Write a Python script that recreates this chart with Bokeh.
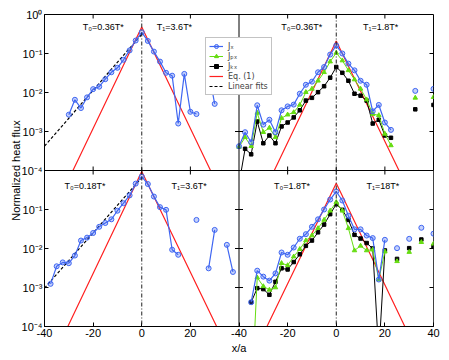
import math
import numpy as np
from bokeh.plotting import figure
from bokeh.models import (Range1d, LogScale, FixedTicker,
                          CustomJSTickFormatter, Span, BoxAnnotation,
                          Legend, LegendItem)
from bokeh.core.properties import value
from bokeh.embed import file_html
from bokeh.resources import INLINE

nan = float("nan")

# ---------------- data ----------------
X = [-40, -37.5, -35, -32.5, -30, -27.5, -25, -22.5, -20, -17.5, -15, -12.5, -10, -7.5, -5, -2.5,
     0, 2.5, 5, 7.5, 10, 12.5, 15, 17.5, 20, 22.5, 25, 27.5, 30, 32.5, 35, 37.5, 40]

# top-left panel: T0=0.36T*, T1=3.6T*
TL_JX = [nan, nan, nan, nan, 2.7e-3, 6.5e-3, 4.0e-3, 7.5e-3, 0.0122, 0.0141, 0.0219, 0.033, 0.043, 0.069, 0.12, 0.215,
         0.35, 0.21, 0.112, 0.062, 0.032, 0.027, 1.6e-3, 0.030, 3.2e-3, 2.8e-3, nan, 0.035, 5.1e-3, nan, nan, nan, nan]
TL_FIT_X = [-40, 0]
TL_FIT = [4.2e-4, 0.31]
TL_EQ_X = [-28.3, 0, 28.3]
TL_EQ = [1e-4, 0.48, 1e-4]

# top-right panel: T0=0.36T*, T1=1.8T*
TR_JX = [4.2e-4, 9.6e-4, 5.3e-4, 4.7e-3, 1.5e-3, 2.0e-3, 9.6e-4, 3.5e-3, 4.4e-3, 4.9e-3, 9.3e-3, 0.0158, 0.019, 0.033, 0.045, 0.094,
         0.16, 0.10, 0.055, 0.037, 0.020, 0.0158, 3.3e-3, 4.8e-3, 1.7e-3, 1.1e-3, nan, nan, nan, 0.011, nan, nan, 0.0124]
TR_JPX = [4.0e-4, 7.1e-4, 4.2e-4, 3.0e-3, 9.6e-4, 1.24e-3, 7.1e-4, 2.2e-3, 2.7e-3, 3.1e-3, 4.8e-3, 0.0102, 0.0124, 0.020, 0.033, 0.062,
          0.104, 0.066, 0.037, 0.0215, 0.0124, 6.6e-3, 2.8e-3, 2.6e-3, 8.7e-4, 4.4e-4, nan, nan, nan, 7.3e-3, nan, nan, 7.6e-3]
TR_JKX = [4.5e-5, 3.6e-4, 2.6e-4, 1.8e-3, 5.0e-4, 7.9e-4, 5.0e-4, 1.35e-3, 1.7e-3, 2.3e-3, 3.5e-3, 6.2e-3, 7.3e-3, 0.0102, 0.0145, 0.024,
          0.045, 0.032, 0.020, 9.3e-3, 8.3e-3, 6.2e-3, 1.6e-3, 2.0e-3, 7.9e-4, 6.9e-4, nan, nan, nan, 3.7e-3, nan, nan, 4.8e-3]
TR_EQ_X = [-25.5, 0, 25.8]
TR_EQ = [1e-4, 0.21, 1e-4]

# bottom-left panel: T0=0.18T*, T1=3.6T*
BL_JX = [nan, 1.24e-3, 3.5e-3, 4.4e-3, 4.2e-3, 6.6e-3, 0.016, 0.019, 0.025, 0.036, 0.045, 0.056, 0.093, 0.145, 0.23, 0.46,
         0.70, 0.45, 0.215, 0.115, 0.098, 9.3e-3, 6.9e-3, nan, nan, 0.054, nan, 3.1e-3, 0.030, nan, 0.0124, 2.5e-3, nan]
BL_FIT_X = [-40, 0]
BL_FIT = [9.6e-4, 0.66]
BL_EQ_X = [-30.4, 0, 30.8]
BL_EQ = [1e-4, 0.94, 1e-4]

# bottom-right panel: T0=1.8T*, T1=18T*
BR_JX = [nan, nan, 4.2e-4, 2.7e-3, 1.9e-3, 1.5e-3, 2.3e-3, 7.9e-3, 6.9e-3, 0.0106, 0.0178, 0.0233, 0.036, 0.056, 0.10, 0.18,
         0.29, 0.17, 0.069, 0.031, 0.031, 0.0215, 0.0185, 1.6e-3, 0.0167, nan, 0.0102, nan, 0.0177, nan, 0.034, nan, 0.024]
BR_JPX = [nan, nan, 1e-6, 1.8e-3, 1.07e-3, 8.7e-4, 1.0e-3, 4.2e-3, 3.7e-3, 6.2e-3, 9.6e-3, 0.016, 0.0215, 0.033, 0.054, 0.093,
          0.154, 0.093, 0.033, 8.9e-3, 0.0117, 8.9e-3, 9.3e-3, 1.6e-3, 8.3e-3, nan, 4.7e-3, nan, 8.1e-3, nan, 0.0145, nan, 0.0132]
BR_JKX = [nan, nan, 4.2e-4, 9.6e-4, 9.1e-4, 6.5e-4, 1.4e-3, 3.1e-3, 2.9e-3, 4.5e-3, 7.1e-3, 0.0117, 0.016, 0.026, 0.041, 0.076,
          0.137, 0.098, 0.054, 0.0224, 0.018, 0.0138, 0.0100, 2e-5, 8.9e-3, nan, 5.4e-3, nan, 0.0102, nan, 0.017, nan, 0.0112]
BR_EQ_X = [-28.5, 0, 28.2]
BR_EQ = [1e-4, 0.47, 1e-4]

PANEL_TEXT = {
    "TL": ["T\u2080=0.36T*", "T\u2081=3.6T*"],
    "TR": ["T\u2080=0.36T*", "T\u2081=1.8T*"],
    "BL": ["T\u2080=0.18T*", "T\u2081=3.6T*"],
    "BR": ["T\u2080=1.8T*", "T\u2081=18T*"],
}

X_LIM = (-40, 40)
Y_LIM = (1e-4, 1.0)
X_TICKS = [-40, -20, 0, 20, 40]
X_TICK_LABELS = ["-40", "-20", "0", "20", "40"]
Y_TICKS = [1.0, 1e-1, 1e-2, 1e-3, 1e-4]
Y_TICK_LABELS = ["10\u2070", "10\u207b\u00b9", "10\u207b\u00b2", "10\u207b\u00b3", "10\u207b\u2074"]

LEGEND_LABELS = ["J\u2093", "J\u209a\u2093", "J\u2096\u2093", "Eq. (1)", "Linear fits"]

# ---------------- styles ----------------
BLUE = "#3f66f2"
GREEN = "#66dd11"
BLACK = "#000000"
RED = "#ff2020"
FONT = "Liberation Sans"
LEGEND_FONT = "DejaVu Sans"

# one frame, four panels via extra ranges
xspan = X_LIM[1] - X_LIM[0]
yfac = Y_LIM[1] / Y_LIM[0]

p = figure(frame_width=389, frame_height=312,
           x_range=Range1d(X_LIM[0], X_LIM[1] + xspan),
           y_range=Range1d(Y_LIM[0] / yfac, Y_LIM[1]),
           y_axis_type="log",
           min_border_left=44, min_border_right=16, min_border_top=14, min_border_bottom=34,
           output_backend="svg", toolbar_location=None)
p.extra_x_ranges = {"R": Range1d(X_LIM[0] - xspan, X_LIM[1])}
p.extra_y_ranges = {"B": Range1d(Y_LIM[0], Y_LIM[1] * yfac)}
p.extra_y_scales = {"B": LogScale()}
p.xgrid.visible = False
p.ygrid.visible = False
p.outline_line_color = "black"
p.outline_line_width = 1
p.background_fill_color = "white"
p.border_fill_color = "white"

full_x_ticks = [t for t in X_TICKS[:-1]] + [t + xspan for t in X_TICKS]
full_x_labels = X_TICK_LABELS[:-1] + X_TICK_LABELS
full_y_ticks = list(Y_TICKS) + [t / yfac for t in Y_TICKS[1:]]
full_y_labels = Y_TICK_LABELS + Y_TICK_LABELS[1:]

fmt_code = """
for (let i = 0; i < tvals.length; i++) {
  if (Math.abs(tvals[i] - tick) <= 1e-6 * Math.max(Math.abs(tvals[i]), 1e-12)) return tlabels[i];
}
return "";
"""


def style_axis(ax, title, title_standoff):
    ax.major_tick_in = 4
    ax.major_tick_out = 0
    ax.minor_tick_in = 0
    ax.minor_tick_out = 0
    ax.axis_line_color = "black"
    ax.major_tick_line_color = "black"
    ax.major_label_text_font = FONT
    ax.major_label_text_color = "black"
    ax.major_label_text_font_size = "11px"
    ax.major_label_standoff = 2
    ax.axis_label = title
    ax.axis_label_text_font = FONT
    ax.axis_label_text_font_size = "11px"
    ax.axis_label_text_font_style = "normal"
    ax.axis_label_text_color = "black"
    ax.axis_label_standoff = title_standoff


xax = p.xaxis[0]
xax.ticker = FixedTicker(ticks=full_x_ticks, minor_ticks=[])
xax.formatter = CustomJSTickFormatter(args=dict(tvals=full_x_ticks, tlabels=full_x_labels), code=fmt_code)
style_axis(xax, "x/a", 2)

yax = p.yaxis[0]
yax.ticker = FixedTicker(ticks=full_y_ticks, minor_ticks=[])
yax.formatter = CustomJSTickFormatter(args=dict(tvals=full_y_ticks, tlabels=full_y_labels), code=fmt_code)
style_axis(yax, "Normalized heat flux", -3)

# mask: keeps top-panel curves from running into the bottom panels
p.add_layout(BoxAnnotation(left=X_LIM[0], right=X_LIM[1] + xspan,
                           bottom=Y_LIM[0] / yfac, top=Y_LIM[0],
                           fill_color="white", fill_alpha=1.0,
                           line_alpha=0, level="underlay"))

xs = np.array(X, dtype=float)


def series(ys, color, marker, size, xr, yr, level, lw=1.0, fill_alpha=1.0):
    ys = np.array(ys, dtype=float)
    rl = p.line(xs, ys, line_color=color, line_width=lw, x_range_name=xr, y_range_name=yr, level=level)
    rs = p.scatter(xs, ys, marker=marker, size=size, line_color=color, fill_color=color,
                   fill_alpha=fill_alpha, x_range_name=xr, y_range_name=yr, level=level)
    return rl, rs


def eq_line(xe, ye, xr, yr, level):
    return p.line(xe, ye, line_color=RED, line_width=1.2, x_range_name=xr, y_range_name=yr, level=level)


def fit_line(xf, yf, xr, yr, level):
    return p.line(xf, yf, line_color="black", line_width=1.2, line_dash="3 2",
                  x_range_name=xr, y_range_name=yr, level=level)


# top-left
tl_fit = fit_line(TL_FIT_X, TL_FIT, "default", "default", "image")
eq_line(TL_EQ_X, TL_EQ, "default", "default", "image")
series(TL_JX, BLUE, "circle", 5, "default", "default", "image", lw=1.2, fill_alpha=0.3)

# top-right
tr_eq = eq_line(TR_EQ_X, TR_EQ, "R", "default", "image")
tr_kx = series(TR_JKX, BLACK, "square", 3.5, "R", "default", "image")
tr_px = series(TR_JPX, GREEN, "triangle", 4.5, "R", "default", "image")
tr_jx = series(TR_JX, BLUE, "circle", 5, "R", "default", "image", lw=1.2, fill_alpha=0.3)

# bottom-left
fit_line(BL_FIT_X, BL_FIT, "default", "B", "glyph")
eq_line(BL_EQ_X, BL_EQ, "default", "B", "glyph")
series(BL_JX, BLUE, "circle", 5, "default", "B", "glyph", lw=1.2, fill_alpha=0.3)

# bottom-right
eq_line(BR_EQ_X, BR_EQ, "R", "B", "glyph")
series(BR_JKX, BLACK, "square", 3.5, "R", "B", "glyph")
series(BR_JPX, GREEN, "triangle", 4.5, "R", "B", "glyph")
series(BR_JX, BLUE, "circle", 5, "R", "B", "glyph", lw=1.2, fill_alpha=0.3)

# x = 0 dash-dot lines and the inner panel borders
for xr in ("default", "R"):
    p.add_layout(Span(location=0, dimension="height", line_color="#222222", line_width=1,
                      line_dash="4 2 1 2", x_range_name=xr))
p.add_layout(Span(location=X_LIM[1], dimension="height", line_color="black", line_width=1))
p.add_layout(Span(location=Y_LIM[0], dimension="width", line_color="black", line_width=1))

# inward tick marks on the top edge, right edge and both sides of the inner borders
# (markers are clipped to the frame, so those on the outer edges only show inward)
for xr in ("default", "R"):
    for yb in (Y_LIM[0], Y_LIM[1]):
        p.scatter(X_TICKS[1:-1], [yb] * 3, marker="dash", angle=math.pi / 2, size=8,
                  line_color="black", line_width=1, x_range_name=xr)
for yr in ("default", "B"):
    for xb, xr in ((X_LIM[1], "default"), (X_LIM[1], "R")):
        p.scatter([xb] * 3, Y_TICKS[1:-1], marker="dash", size=8,
                  line_color="black", line_width=1, x_range_name=xr, y_range_name=yr)

# panel annotations
TEXT_X = {"TL": (-24.3, 6.2), "TR": (-22.6, 11.0), "BL": (-31.8, 12.2), "BR": (-25.6, 12.4)}
TEXT_Y = {"TL": 0.48, "TR": 0.48, "BL": 0.41, "BR": 0.41}
RANGES = {"TL": ("default", "default"), "TR": ("R", "default"),
          "BL": ("default", "B"), "BR": ("R", "B")}
for key, texts in PANEL_TEXT.items():
    xr, yr = RANGES[key]
    p.text(x=list(TEXT_X[key]), y=[TEXT_Y[key]] * 2, text=texts,
           text_font=value(FONT), text_font_size="9px", text_color="black",
           text_align="left", text_baseline="middle", x_range_name=xr, y_range_name=yr)

# legend
legend = Legend(items=[
    LegendItem(label=value(LEGEND_LABELS[0]), renderers=list(tr_jx)),
    LegendItem(label=value(LEGEND_LABELS[1]), renderers=list(tr_px)),
    LegendItem(label=value(LEGEND_LABELS[2]), renderers=list(tr_kx)),
    LegendItem(label=value(LEGEND_LABELS[3]), renderers=[tr_eq]),
    LegendItem(label=value(LEGEND_LABELS[4]), renderers=[tl_fit]),
], location=(161, 231), padding=3, spacing=0, margin=0, glyph_width=14, glyph_height=10,
    label_height=10, label_standoff=5, label_text_font=LEGEND_FONT, label_text_font_size="8px",
    border_line_color="#888888", border_line_width=1, background_fill_color="white",
    background_fill_alpha=1.0)
p.add_layout(legend)

open("out.html", "w").write(file_html(p, INLINE))
